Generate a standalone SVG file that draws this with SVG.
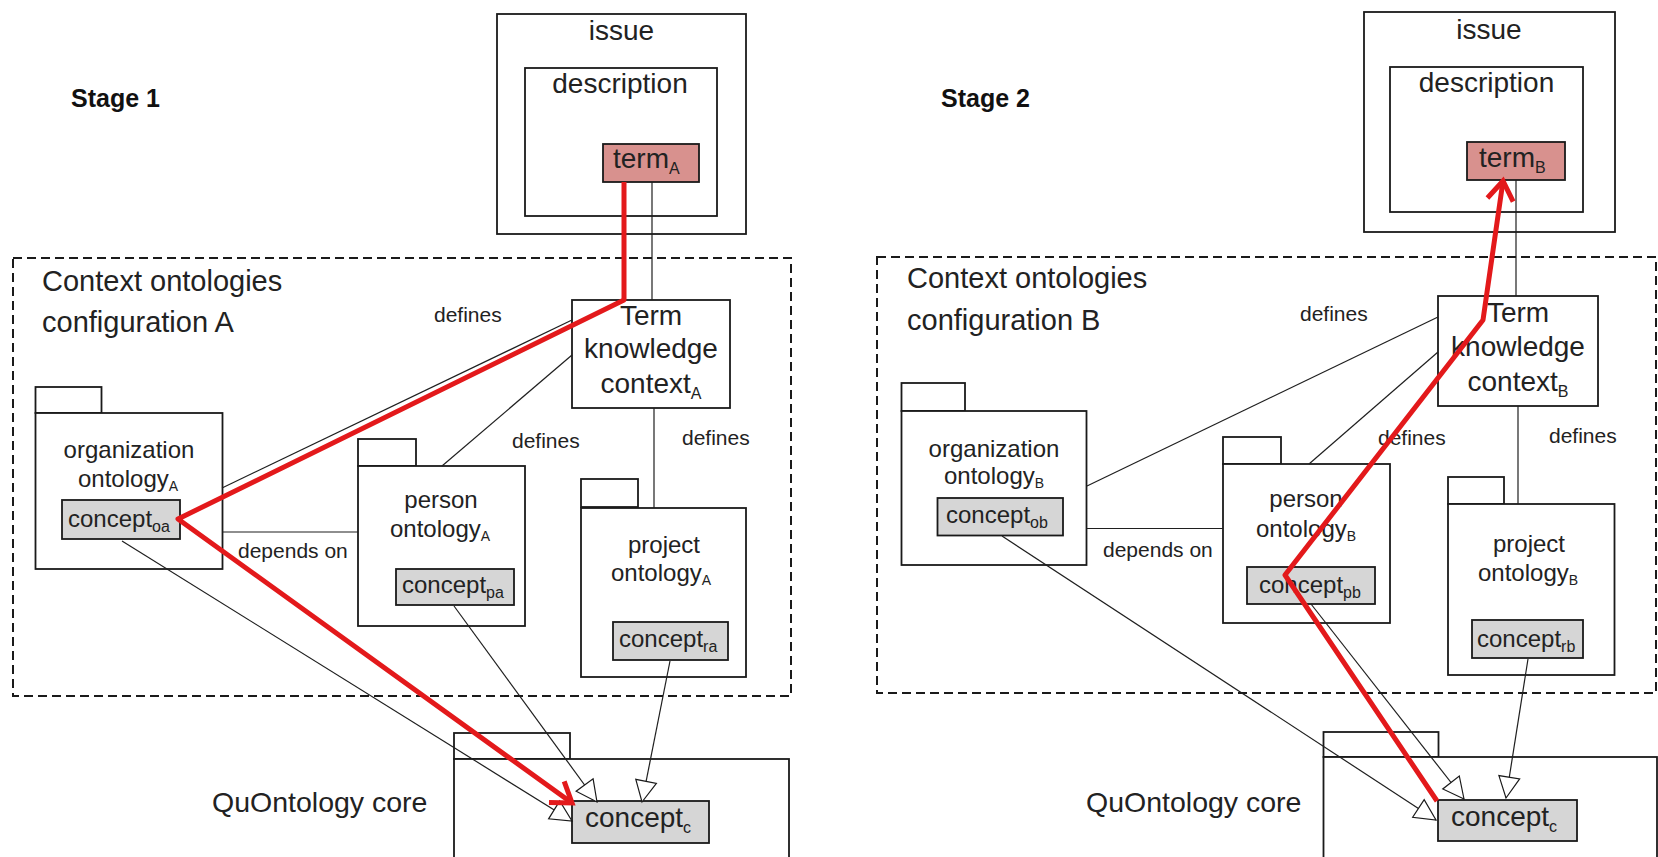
<svg xmlns="http://www.w3.org/2000/svg" width="1658" height="857" viewBox="0 0 1658 857">
<style>
text{font-family:"Liberation Sans",Arial,sans-serif;fill:#222}
.f29{font-size:29px}.f28{font-size:28px}.f24{font-size:24px}.f21{font-size:21px}
.sub{font-size:16px}.subs{font-size:14px}
.stage{font-size:25px;font-weight:bold;fill:#111}
.mid{text-anchor:middle}
.box{fill:#fff;stroke:#1a1a1a;stroke-width:1.8}
.term{fill:#d8918e;stroke:#1a1a1a;stroke-width:1.8}
.concept{fill:#d6d6d6;stroke:#1a1a1a;stroke-width:1.8}
.dash{fill:none;stroke:#1a1a1a;stroke-width:2;stroke-dasharray:9 5}
.thin{fill:none;stroke:#1f1f1f;stroke-width:1.2}
.gen{fill:none;stroke:#1f1f1f;stroke-width:1.2;marker-end:url(#hollow)}
.red{fill:none;stroke:#e3191b;stroke-width:5;stroke-linejoin:round;marker-end:url(#redhead)}
</style>
<defs>
<marker id="hollow" markerUnits="userSpaceOnUse" viewBox="-24 -13 26 26" markerWidth="26" markerHeight="26" refX="0" refY="0" orient="auto" overflow="visible">
<path d="M0,0 L-21,-10.5 L-21,10.5 Z" fill="#fff" stroke="#1a1a1a" stroke-width="1.2"/>
</marker>
<marker id="redhead" markerUnits="userSpaceOnUse" viewBox="-22 -16 26 32" markerWidth="26" markerHeight="32" refX="0" refY="0" orient="auto" overflow="visible">
<path d="M-19,-13 L0,0 L-19,13" fill="none" stroke="#e3191b" stroke-width="5"/>
</marker>
</defs>
<rect width="1658" height="857" fill="#fff"/>

<!-- ===== Stage 1 ===== -->
<g id="stage1-title"><text class="stage" x="71" y="107">Stage 1</text></g>
<g id="ctxA"><rect class="dash" x="13" y="258" width="778" height="438"/>
<text class="f29" x="42" y="291">Context ontologies</text>
<text class="f29" x="42" y="332">configuration A</text></g>
<g id="issueA"><rect class="box" x="497" y="14" width="249" height="220"/>
<text class="f28 mid" x="621.5" y="40">issue</text></g>
<g id="descA"><rect class="box" x="525" y="68" width="192" height="148"/>
<text class="f28 mid" x="620" y="93">description</text></g>
<g id="termA"><rect class="term" x="603" y="144" width="96" height="38"/>
<text class="f28" x="613" y="168">term<tspan class="sub" dy="6">A</tspan></text></g>
<g id="tkcA"><rect class="box" x="572" y="300" width="158" height="108"/>
<text class="f28 mid" x="651" y="325">Term</text>
<text class="f28 mid" x="651" y="358">knowledge</text>
<text class="f28 mid" x="651" y="393">context<tspan class="sub" dy="6">A</tspan></text></g>
<g id="orgA"><rect class="box" x="35.5" y="387" width="66" height="26"/><rect class="box" x="35.5" y="413" width="187" height="156"/>
<text class="f24 mid" x="129" y="458">organization</text>
<text class="f24" x="78" y="487">ontology<tspan class="subs" dy="4">A</tspan></text>
<rect class="concept" x="62" y="500" width="118" height="39"/>
<text class="f24" x="68" y="527">concept<tspan class="sub" dy="5">oa</tspan></text></g>
<g id="personA"><rect class="box" x="358" y="439" width="58" height="27"/><rect class="box" x="358" y="466" width="167" height="160"/>
<text class="f24 mid" x="441" y="508">person</text>
<text class="f24" x="390" y="537">ontology<tspan class="subs" dy="4">A</tspan></text>
<rect class="concept" x="396" y="569" width="118" height="36"/>
<text class="f24" x="402" y="593">concept<tspan class="sub" dy="5">pa</tspan></text></g>
<g id="projectA"><rect class="box" x="581" y="479" width="57" height="28"/><rect class="box" x="581" y="508" width="165" height="169"/>
<text class="f24 mid" x="664" y="553">project</text>
<text class="f24" x="611" y="581">ontology<tspan class="subs" dy="4">A</tspan></text>
<rect class="concept" x="613" y="622" width="115" height="38"/>
<text class="f24" x="619" y="647">concept<tspan class="sub" dy="5">ra</tspan></text></g>
<g id="coreA"><rect class="box" x="454" y="733" width="116" height="26"/><rect class="box" x="454" y="759" width="335" height="110"/>
<text class="f28" x="212" y="812" style="font-size:28.5px">QuOntology core</text>
<rect class="concept" x="572" y="801" width="137" height="42"/>
<text class="f28" x="585" y="827">concept<tspan class="sub" dy="6">c</tspan></text></g>

<!-- ===== Stage 2 ===== -->
<g id="stage2-title"><text class="stage" x="941" y="107">Stage 2</text></g>
<g id="ctxB"><rect class="dash" x="877" y="257" width="779" height="436"/>
<text class="f29" x="907" y="288">Context ontologies</text>
<text class="f29" x="907" y="330">configuration B</text></g>
<g id="issueB"><rect class="box" x="1364" y="12" width="251" height="220"/>
<text class="f28 mid" x="1489" y="39">issue</text></g>
<g id="descB"><rect class="box" x="1390" y="67" width="193" height="145"/>
<text class="f28 mid" x="1486.5" y="92">description</text></g>
<g id="termB"><rect class="term" x="1467" y="142" width="98" height="38"/>
<text class="f28" x="1479" y="167">term<tspan class="sub" dy="6">B</tspan></text></g>
<g id="tkcB"><rect class="box" x="1438" y="296" width="160" height="110"/>
<text class="f28 mid" x="1518" y="322">Term</text>
<text class="f28 mid" x="1518" y="356">knowledge</text>
<text class="f28 mid" x="1518" y="391">context<tspan class="sub" dy="6">B</tspan></text></g>
<g id="orgB"><rect class="box" x="901.5" y="383" width="63.5" height="28"/><rect class="box" x="901.5" y="411" width="185" height="154"/>
<text class="f24 mid" x="994" y="457">organization</text>
<text class="f24" x="944" y="484">ontology<tspan class="subs" dy="4">B</tspan></text>
<rect class="concept" x="937.5" y="498" width="125.5" height="37.5"/>
<text class="f24" x="946" y="523">concept<tspan class="sub" dy="5">ob</tspan></text></g>
<g id="personB"><rect class="box" x="1223" y="437" width="58" height="27"/><rect class="box" x="1223" y="464" width="167" height="159"/>
<text class="f24 mid" x="1306" y="507">person</text>
<text class="f24" x="1256" y="537">ontology<tspan class="subs" dy="4">B</tspan></text>
<rect class="concept" x="1247" y="567" width="128" height="37"/>
<text class="f24" x="1259" y="593">concept<tspan class="sub" dy="5">pb</tspan></text></g>
<g id="projectB"><rect class="box" x="1448" y="477" width="56" height="27"/><rect class="box" x="1448" y="504" width="166.5" height="171"/>
<text class="f24 mid" x="1529" y="552">project</text>
<text class="f24" x="1478" y="581">ontology<tspan class="subs" dy="4">B</tspan></text>
<rect class="concept" x="1472" y="620" width="111" height="38"/>
<text class="f24" x="1477" y="647">concept<tspan class="sub" dy="5">rb</tspan></text></g>
<g id="coreB"><rect class="box" x="1323.5" y="732" width="115" height="25"/><rect class="box" x="1323.5" y="757" width="333.5" height="110"/>
<text class="f28" x="1086" y="812" style="font-size:28.5px">QuOntology core</text>
<rect class="concept" x="1438" y="800" width="139" height="41"/>
<text class="f28" x="1451" y="826">concept<tspan class="sub" dy="6">c</tspan></text></g>

<!-- ===== Connectors ===== -->
<g id="connectors">
<line class="thin" x1="652" y1="182" x2="652" y2="300"/>
<line class="thin" x1="222" y1="488" x2="572" y2="320"/>
<line class="thin" x1="442" y1="466" x2="572" y2="355"/>
<line class="thin" x1="654" y1="408" x2="654" y2="508"/>
<line class="thin" x1="222" y1="532" x2="358" y2="532"/>
<line class="gen" x1="122" y1="541" x2="572" y2="821"/>
<line class="gen" x1="454" y1="606" x2="597" y2="802"/>
<line class="gen" x1="670" y1="661" x2="642" y2="802"/>
<text class="f21" x="434" y="322">defines</text>
<text class="f21" x="512" y="448">defines</text>
<text class="f21" x="682" y="445">defines</text>
<text class="f21" x="238" y="558">depends on</text>
<polyline class="red" points="624,182 624,300 178,519 572,803"/>

<line class="thin" x1="1516" y1="180" x2="1516" y2="296"/>
<line class="thin" x1="1087" y1="486" x2="1438" y2="317"/>
<line class="thin" x1="1309" y1="464" x2="1438" y2="352"/>
<line class="thin" x1="1518" y1="406" x2="1518" y2="504"/>
<line class="thin" x1="1087" y1="528.5" x2="1223" y2="528.5"/>
<line class="gen" x1="1002" y1="536" x2="1436" y2="820"/>
<line class="gen" x1="1311" y1="604" x2="1464" y2="799"/>
<line class="gen" x1="1528" y1="659" x2="1506" y2="798"/>
<text class="f21" x="1300" y="321">defines</text>
<text class="f21" x="1378" y="445">defines</text>
<text class="f21" x="1549" y="443">defines</text>
<text class="f21" x="1103" y="557">depends on</text>
<polyline class="red" points="1437,801 1285,575 1483,320 1503,181"/>
</g>
</svg>
